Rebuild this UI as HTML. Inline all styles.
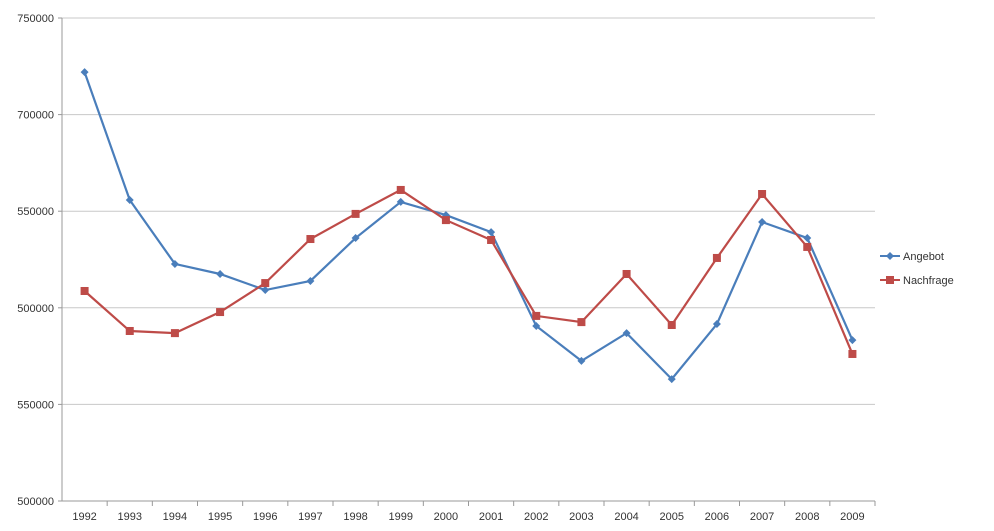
<!DOCTYPE html>
<html><head><meta charset="utf-8"><style>
body{margin:0;background:#fff;}
svg{display:block;font-family:"Liberation Sans",sans-serif;}
</style></head><body>
<svg id="chart" width="994" height="531" xmlns="http://www.w3.org/2000/svg">
<g id="grid"></g>
<g id="axes"></g>
<g id="series"></g>
<g id="legend">
  <g>
    <line x1="880" y1="256" x2="900" y2="256" stroke="#4a7ebb" stroke-width="2"/>
    <path d="M890 252 L894 256 L890 260 L886 256 Z" fill="#4a7ebb"/>
    <text x="903" y="260" font-size="11" fill="#333">Angebot</text>
  </g>
  <g>
    <line x1="880" y1="280" x2="900" y2="280" stroke="#be4b48" stroke-width="2"/>
    <rect x="886" y="276" width="8" height="8" fill="#be4b48"/>
    <text x="903" y="284" font-size="11" fill="#333">Nachfrage</text>
  </g>
</g>
</svg>
<script>
const categories=["1992","1993","1994","1995","1996","1997","1998","1999","2000","2001","2002","2003","2004","2005","2006","2007","2008","2009"];
const angebot=[722000,655800,622700,617500,609200,613900,636100,654800,648000,639200,590600,572500,586900,563100,591600,644400,636100,583300];
const nachfrage=[608700,588000,586900,597800,612800,635600,648600,661000,645400,635100,595800,592600,617500,591100,625800,658900,631500,576100];
const tickValues=[500000,550000,600000,650000,700000,750000];
const tickLabels=["500000","550000","500000","550000","700000","750000"];
const NS="http://www.w3.org/2000/svg";
const x0=62,x1=875,yTop=18,yBot=501,vMin=500000,vMax=750000;
const bw=(x1-x0)/categories.length;
function xs(i){return x0+bw*(i+0.5);}
function ys(v){return yBot-(v-vMin)/(vMax-vMin)*(yBot-yTop);}
function mk(tag,attrs,parent){const e=document.createElementNS(NS,tag);for(const k in attrs)e.setAttribute(k,attrs[k]);parent.appendChild(e);return e;}
const grid=document.getElementById('grid'),axes=document.getElementById('axes'),series=document.getElementById('series');
tickValues.forEach((v,i)=>{
  const y=ys(v);
  const l=mk('line',{x1:x0,x2:x1,y1:y,y2:y,stroke:'#c8c8c8','stroke-width':1},grid);
  
  
  mk('line',{x1:x0-4,x2:x0,y1:y,y2:y,stroke:'#999'},axes);
  const t=mk('text',{x:x0-8,y:y+4,'text-anchor':'end','font-size':11,fill:'#333'},axes);
  t.textContent=tickLabels[i];
  
  
});
mk('line',{x1:x0,x2:x0,y1:yTop,y2:yBot,stroke:'#999'},axes);
mk('line',{x1:x0,x2:x1,y1:yBot,y2:yBot,stroke:'#999'},axes);
categories.forEach((c,i)=>{
  mk('line',{x1:x0+bw*(i+1),x2:x0+bw*(i+1),y1:yBot,y2:yBot+5,stroke:'#999'},axes);
  const t=mk('text',{x:xs(i),y:yBot+19,'text-anchor':'middle','font-size':11,fill:'#333'},axes);
  t.textContent=c;
  
  
});
function draw(data,color,shape,name){
  const p=mk('polyline',{points:data.map((v,i)=>xs(i)+','+ys(v)).join(' '),fill:'none',stroke:color,'stroke-width':2.2},series);
  
  
  data.forEach((v,i)=>{
    const x=xs(i),y=ys(v);let m;
    if(shape==='d') m=mk('path',{d:`M${x} ${y-4}L${x+4} ${y}L${x} ${y+4}L${x-4} ${y}Z`,fill:color},series);
    else m=mk('rect',{x:x-4,y:y-4,width:8,height:8,fill:color},series);
    
    
  });
}
draw(angebot,'#4a7ebb','d','angebot');
draw(nachfrage,'#be4b48','s','nachfrage');
</script>
</body></html>
